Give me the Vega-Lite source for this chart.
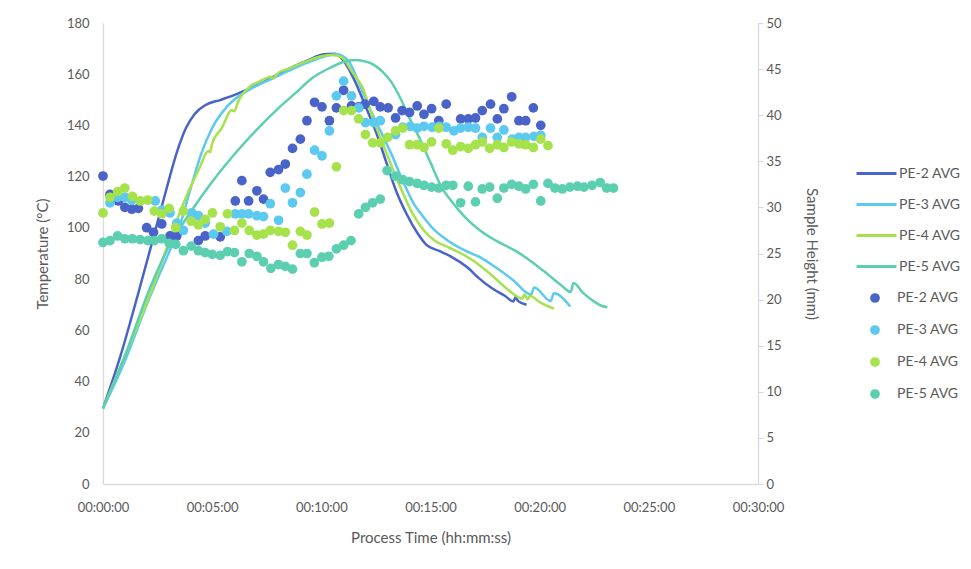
{
  "$schema": "https://vega.github.io/schema/vega-lite/v6.json",
  "width": 655,
  "height": 461,
  "autosize": {"type": "none"},
  "padding": {"left": 103, "top": 23, "right": 213, "bottom": 85},
  "background": "white",
  "config": {
    "view": {"stroke": null},
    "font": "Lato",
    "axis": {"grid": false, "labelFlush": false, "domainColor": "#d9d9d9", "domainWidth": 1.3, "labelColor": "#595959", "titleColor": "#595959", "labelFont": "Lato", "titleFont": "Lato", "labelFontSize": 13, "titleFontSize": 15, "titleFontWeight": "normal", "tickColor": "#d9d9d9"},
    "legend": {"labelFont": "Lato", "labelFontSize": 14, "labelColor": "#595959", "padding": 0}
  },
  "datasets": {
    "lines": [
      {"series": "PE-2 AVG", "t": 0, "temp": 29.5}, {"series": "PE-2 AVG", "t": 0.8, "temp": 50}, {"series": "PE-2 AVG", "t": 1.6, "temp": 74}, {"series": "PE-2 AVG", "t": 2.3, "temp": 96}, {"series": "PE-2 AVG", "t": 2.9, "temp": 115}, {"series": "PE-2 AVG", "t": 3.4, "temp": 130}, {"series": "PE-2 AVG", "t": 3.8, "temp": 139}, {"series": "PE-2 AVG", "t": 4.2, "temp": 144.5}, {"series": "PE-2 AVG", "t": 4.7, "temp": 148}, {"series": "PE-2 AVG", "t": 5.4, "temp": 150}, {"series": "PE-2 AVG", "t": 6.2, "temp": 152.5}, {"series": "PE-2 AVG", "t": 7.0, "temp": 155.5}, {"series": "PE-2 AVG", "t": 7.8, "temp": 159}, {"series": "PE-2 AVG", "t": 8.6, "temp": 162.5}, {"series": "PE-2 AVG", "t": 9.4, "temp": 165.5}, {"series": "PE-2 AVG", "t": 10.1, "temp": 167.8}, {"series": "PE-2 AVG", "t": 10.6, "temp": 168}, {"series": "PE-2 AVG", "t": 11.0, "temp": 165.5}, {"series": "PE-2 AVG", "t": 11.5, "temp": 158}, {"series": "PE-2 AVG", "t": 12.0, "temp": 148}, {"series": "PE-2 AVG", "t": 12.5, "temp": 137.5}, {"series": "PE-2 AVG", "t": 13.0, "temp": 125}, {"series": "PE-2 AVG", "t": 13.4, "temp": 115}, {"series": "PE-2 AVG", "t": 13.9, "temp": 105.5}, {"series": "PE-2 AVG", "t": 14.4, "temp": 98}, {"series": "PE-2 AVG", "t": 14.8, "temp": 93.5}, {"series": "PE-2 AVG", "t": 15.4, "temp": 91}, {"series": "PE-2 AVG", "t": 15.9, "temp": 89}, {"series": "PE-2 AVG", "t": 16.7, "temp": 84.5}, {"series": "PE-2 AVG", "t": 17.2, "temp": 80.5}, {"series": "PE-2 AVG", "t": 17.8, "temp": 76.5}, {"series": "PE-2 AVG", "t": 18.4, "temp": 73.5}, {"series": "PE-2 AVG", "t": 18.8, "temp": 71.3}, {"series": "PE-2 AVG", "t": 18.9, "temp": 73}, {"series": "PE-2 AVG", "t": 19.0, "temp": 71.5}, {"series": "PE-2 AVG", "t": 19.4, "temp": 70},
      {"series": "PE-3 AVG", "t": 0, "temp": 29.5}, {"series": "PE-3 AVG", "t": 1, "temp": 48}, {"series": "PE-3 AVG", "t": 2, "temp": 70}, {"series": "PE-3 AVG", "t": 3, "temp": 90}, {"series": "PE-3 AVG", "t": 3.45, "temp": 99}, {"series": "PE-3 AVG", "t": 4, "temp": 115}, {"series": "PE-3 AVG", "t": 4.5, "temp": 129}, {"series": "PE-3 AVG", "t": 5.0, "temp": 139}, {"series": "PE-3 AVG", "t": 5.75, "temp": 148}, {"series": "PE-3 AVG", "t": 6.8, "temp": 154.5}, {"series": "PE-3 AVG", "t": 7.8, "temp": 158.5}, {"series": "PE-3 AVG", "t": 8.8, "temp": 162.5}, {"series": "PE-3 AVG", "t": 9.6, "temp": 165.3}, {"series": "PE-3 AVG", "t": 10.3, "temp": 167.3}, {"series": "PE-3 AVG", "t": 10.7, "temp": 167.8}, {"series": "PE-3 AVG", "t": 11.0, "temp": 167}, {"series": "PE-3 AVG", "t": 11.3, "temp": 164.5}, {"series": "PE-3 AVG", "t": 11.7, "temp": 157}, {"series": "PE-3 AVG", "t": 12.2, "temp": 147}, {"series": "PE-3 AVG", "t": 12.7, "temp": 138}, {"series": "PE-3 AVG", "t": 13.2, "temp": 129}, {"series": "PE-3 AVG", "t": 13.8, "temp": 117}, {"series": "PE-3 AVG", "t": 14.2, "temp": 110}, {"series": "PE-3 AVG", "t": 14.7, "temp": 104}, {"series": "PE-3 AVG", "t": 15.2, "temp": 99}, {"series": "PE-3 AVG", "t": 15.8, "temp": 95}, {"series": "PE-3 AVG", "t": 16.5, "temp": 91.5}, {"series": "PE-3 AVG", "t": 17.3, "temp": 88.4}, {"series": "PE-3 AVG", "t": 18.0, "temp": 84.5}, {"series": "PE-3 AVG", "t": 18.8, "temp": 79.5}, {"series": "PE-3 AVG", "t": 19.6, "temp": 74}, {"series": "PE-3 AVG", "t": 19.75, "temp": 76.7}, {"series": "PE-3 AVG", "t": 20.5, "temp": 71.5}, {"series": "PE-3 AVG", "t": 20.65, "temp": 74.5}, {"series": "PE-3 AVG", "t": 21.4, "temp": 69.3},
      {"series": "PE-4 AVG", "t": 0, "temp": 29.5}, {"series": "PE-4 AVG", "t": 1, "temp": 50}, {"series": "PE-4 AVG", "t": 2.2, "temp": 75}, {"series": "PE-4 AVG", "t": 3.0, "temp": 94}, {"series": "PE-4 AVG", "t": 3.8, "temp": 112}, {"series": "PE-4 AVG", "t": 4.4, "temp": 123}, {"series": "PE-4 AVG", "t": 4.83, "temp": 130}, {"series": "PE-4 AVG", "t": 4.9, "temp": 129.5}, {"series": "PE-4 AVG", "t": 5.0, "temp": 133}, {"series": "PE-4 AVG", "t": 5.44, "temp": 139}, {"series": "PE-4 AVG", "t": 5.9, "temp": 146}, {"series": "PE-4 AVG", "t": 6.0, "temp": 145.5}, {"series": "PE-4 AVG", "t": 6.2, "temp": 149.5}, {"series": "PE-4 AVG", "t": 6.7, "temp": 155}, {"series": "PE-4 AVG", "t": 7.2, "temp": 157.3}, {"series": "PE-4 AVG", "t": 7.7, "temp": 159}, {"series": "PE-4 AVG", "t": 7.8, "temp": 158.3}, {"series": "PE-4 AVG", "t": 7.95, "temp": 160}, {"series": "PE-4 AVG", "t": 8.6, "temp": 162.5}, {"series": "PE-4 AVG", "t": 9.4, "temp": 165.3}, {"series": "PE-4 AVG", "t": 10.0, "temp": 167}, {"series": "PE-4 AVG", "t": 10.5, "temp": 167.5}, {"series": "PE-4 AVG", "t": 10.95, "temp": 166.5}, {"series": "PE-4 AVG", "t": 11.4, "temp": 161}, {"series": "PE-4 AVG", "t": 11.9, "temp": 154.5}, {"series": "PE-4 AVG", "t": 12.4, "temp": 142}, {"series": "PE-4 AVG", "t": 12.9, "temp": 131}, {"series": "PE-4 AVG", "t": 13.5, "temp": 118.3}, {"series": "PE-4 AVG", "t": 14.2, "temp": 105.3}, {"series": "PE-4 AVG", "t": 14.7, "temp": 99}, {"series": "PE-4 AVG", "t": 15.2, "temp": 95}, {"series": "PE-4 AVG", "t": 15.8, "temp": 92.5}, {"series": "PE-4 AVG", "t": 16.4, "temp": 90}, {"series": "PE-4 AVG", "t": 17.0, "temp": 87}, {"series": "PE-4 AVG", "t": 17.6, "temp": 83}, {"series": "PE-4 AVG", "t": 18.2, "temp": 78.5}, {"series": "PE-4 AVG", "t": 18.8, "temp": 74.2}, {"series": "PE-4 AVG", "t": 19.2, "temp": 72.3}, {"series": "PE-4 AVG", "t": 19.3, "temp": 74}, {"series": "PE-4 AVG", "t": 19.45, "temp": 72}, {"series": "PE-4 AVG", "t": 19.55, "temp": 73.5}, {"series": "PE-4 AVG", "t": 20.0, "temp": 71}, {"series": "PE-4 AVG", "t": 20.65, "temp": 68.5},
      {"series": "PE-5 AVG", "t": 0, "temp": 29.5}, {"series": "PE-5 AVG", "t": 1, "temp": 50}, {"series": "PE-5 AVG", "t": 2.08, "temp": 75}, {"series": "PE-5 AVG", "t": 3.07, "temp": 93.6}, {"series": "PE-5 AVG", "t": 4.0, "temp": 106}, {"series": "PE-5 AVG", "t": 5.0, "temp": 118}, {"series": "PE-5 AVG", "t": 6.2, "temp": 130.5}, {"series": "PE-5 AVG", "t": 7.0, "temp": 138}, {"series": "PE-5 AVG", "t": 8.0, "temp": 146.5}, {"series": "PE-5 AVG", "t": 8.8, "temp": 152.5}, {"series": "PE-5 AVG", "t": 9.6, "temp": 158.6}, {"series": "PE-5 AVG", "t": 10.4, "temp": 162.5}, {"series": "PE-5 AVG", "t": 11.0, "temp": 164.8}, {"series": "PE-5 AVG", "t": 11.56, "temp": 165.6}, {"series": "PE-5 AVG", "t": 12.2, "temp": 164.5}, {"series": "PE-5 AVG", "t": 12.8, "temp": 161}, {"series": "PE-5 AVG", "t": 13.2, "temp": 157}, {"series": "PE-5 AVG", "t": 13.6, "temp": 151}, {"series": "PE-5 AVG", "t": 14.0, "temp": 143.5}, {"series": "PE-5 AVG", "t": 14.5, "temp": 135}, {"series": "PE-5 AVG", "t": 15.0, "temp": 125.5}, {"series": "PE-5 AVG", "t": 15.5, "temp": 116}, {"series": "PE-5 AVG", "t": 16.0, "temp": 110}, {"series": "PE-5 AVG", "t": 16.6, "temp": 104}, {"series": "PE-5 AVG", "t": 17.3, "temp": 98.8}, {"series": "PE-5 AVG", "t": 18.0, "temp": 95}, {"series": "PE-5 AVG", "t": 18.9, "temp": 91}, {"series": "PE-5 AVG", "t": 19.6, "temp": 87}, {"series": "PE-5 AVG", "t": 20.35, "temp": 82}, {"series": "PE-5 AVG", "t": 21.0, "temp": 77.5}, {"series": "PE-5 AVG", "t": 21.42, "temp": 75}, {"series": "PE-5 AVG", "t": 21.55, "temp": 78.5}, {"series": "PE-5 AVG", "t": 22.0, "temp": 74.5}, {"series": "PE-5 AVG", "t": 22.5, "temp": 71.2}, {"series": "PE-5 AVG", "t": 22.8, "temp": 69.7}, {"series": "PE-5 AVG", "t": 23.1, "temp": 69}
    ],
    "dots": [
      {"sample": "PE-2 AVG", "t": 0, "h": 33.4}, {"sample": "PE-2 AVG", "t": 0.32, "h": 31.4}, {"sample": "PE-2 AVG", "t": 0.7, "h": 30.7}, {"sample": "PE-2 AVG", "t": 1.0, "h": 30.0}, {"sample": "PE-2 AVG", "t": 1.32, "h": 29.8}, {"sample": "PE-2 AVG", "t": 1.62, "h": 29.9}, {"sample": "PE-2 AVG", "t": 2.0, "h": 27.8}, {"sample": "PE-2 AVG", "t": 2.31, "h": 27.3}, {"sample": "PE-2 AVG", "t": 2.69, "h": 28.2}, {"sample": "PE-2 AVG", "t": 3.07, "h": 26.9}, {"sample": "PE-2 AVG", "t": 3.38, "h": 26.9}, {"sample": "PE-2 AVG", "t": 4.37, "h": 26.4}, {"sample": "PE-2 AVG", "t": 4.68, "h": 26.9}, {"sample": "PE-2 AVG", "t": 5.37, "h": 26.8}, {"sample": "PE-2 AVG", "t": 6.06, "h": 30.7}, {"sample": "PE-2 AVG", "t": 6.36, "h": 32.9}, {"sample": "PE-2 AVG", "t": 6.67, "h": 30.7}, {"sample": "PE-2 AVG", "t": 7.05, "h": 31.8}, {"sample": "PE-2 AVG", "t": 7.35, "h": 30.9}, {"sample": "PE-2 AVG", "t": 7.66, "h": 33.8}, {"sample": "PE-2 AVG", "t": 8.04, "h": 34.1}, {"sample": "PE-2 AVG", "t": 8.35, "h": 34.7}, {"sample": "PE-2 AVG", "t": 8.68, "h": 36.4}, {"sample": "PE-2 AVG", "t": 9.04, "h": 37.4}, {"sample": "PE-2 AVG", "t": 9.34, "h": 39.4}, {"sample": "PE-2 AVG", "t": 9.69, "h": 41.4}, {"sample": "PE-2 AVG", "t": 10.03, "h": 40.9}, {"sample": "PE-2 AVG", "t": 10.37, "h": 39.4}, {"sample": "PE-2 AVG", "t": 10.69, "h": 40.8}, {"sample": "PE-2 AVG", "t": 11.02, "h": 42.7}, {"sample": "PE-2 AVG", "t": 11.38, "h": 41.0}, {"sample": "PE-2 AVG", "t": 11.71, "h": 40.9}, {"sample": "PE-2 AVG", "t": 12.0, "h": 41.2}, {"sample": "PE-2 AVG", "t": 12.4, "h": 41.5}, {"sample": "PE-2 AVG", "t": 12.7, "h": 40.9}, {"sample": "PE-2 AVG", "t": 13.06, "h": 40.8}, {"sample": "PE-2 AVG", "t": 13.4, "h": 39.7}, {"sample": "PE-2 AVG", "t": 13.7, "h": 40.5}, {"sample": "PE-2 AVG", "t": 14.04, "h": 40.3}, {"sample": "PE-2 AVG", "t": 14.39, "h": 41.0}, {"sample": "PE-2 AVG", "t": 14.7, "h": 40.1}, {"sample": "PE-2 AVG", "t": 15.05, "h": 40.7}, {"sample": "PE-2 AVG", "t": 15.38, "h": 39.4}, {"sample": "PE-2 AVG", "t": 15.72, "h": 41.2}, {"sample": "PE-2 AVG", "t": 16.38, "h": 39.6}, {"sample": "PE-2 AVG", "t": 16.73, "h": 39.6}, {"sample": "PE-2 AVG", "t": 17.06, "h": 39.7}, {"sample": "PE-2 AVG", "t": 17.37, "h": 40.5}, {"sample": "PE-2 AVG", "t": 17.75, "h": 41.2}, {"sample": "PE-2 AVG", "t": 18.06, "h": 39.6}, {"sample": "PE-2 AVG", "t": 18.36, "h": 40.7}, {"sample": "PE-2 AVG", "t": 18.72, "h": 42.0}, {"sample": "PE-2 AVG", "t": 19.05, "h": 39.4}, {"sample": "PE-2 AVG", "t": 19.36, "h": 39.4}, {"sample": "PE-2 AVG", "t": 19.71, "h": 40.8}, {"sample": "PE-2 AVG", "t": 20.05, "h": 38.9},
      {"sample": "PE-3 AVG", "t": 0.32, "h": 30.5}, {"sample": "PE-3 AVG", "t": 0.67, "h": 31.1}, {"sample": "PE-3 AVG", "t": 1.0, "h": 31.1}, {"sample": "PE-3 AVG", "t": 1.32, "h": 30.8}, {"sample": "PE-3 AVG", "t": 2.39, "h": 30.7}, {"sample": "PE-3 AVG", "t": 2.69, "h": 29.7}, {"sample": "PE-3 AVG", "t": 3.07, "h": 29.4}, {"sample": "PE-3 AVG", "t": 3.38, "h": 28.3}, {"sample": "PE-3 AVG", "t": 3.68, "h": 27.5}, {"sample": "PE-3 AVG", "t": 4.07, "h": 29.4}, {"sample": "PE-3 AVG", "t": 4.37, "h": 29.1}, {"sample": "PE-3 AVG", "t": 4.68, "h": 28.3}, {"sample": "PE-3 AVG", "t": 5.06, "h": 27.1}, {"sample": "PE-3 AVG", "t": 5.67, "h": 27.4}, {"sample": "PE-3 AVG", "t": 6.06, "h": 29.3}, {"sample": "PE-3 AVG", "t": 6.36, "h": 29.3}, {"sample": "PE-3 AVG", "t": 6.67, "h": 29.3}, {"sample": "PE-3 AVG", "t": 7.05, "h": 29.1}, {"sample": "PE-3 AVG", "t": 7.35, "h": 29.0}, {"sample": "PE-3 AVG", "t": 7.66, "h": 30.4}, {"sample": "PE-3 AVG", "t": 8.04, "h": 28.6}, {"sample": "PE-3 AVG", "t": 8.35, "h": 32.1}, {"sample": "PE-3 AVG", "t": 8.68, "h": 30.5}, {"sample": "PE-3 AVG", "t": 9.04, "h": 31.6}, {"sample": "PE-3 AVG", "t": 9.34, "h": 33.6}, {"sample": "PE-3 AVG", "t": 9.69, "h": 36.2}, {"sample": "PE-3 AVG", "t": 10.03, "h": 35.6}, {"sample": "PE-3 AVG", "t": 10.37, "h": 38.3}, {"sample": "PE-3 AVG", "t": 10.69, "h": 42.1}, {"sample": "PE-3 AVG", "t": 11.02, "h": 43.7}, {"sample": "PE-3 AVG", "t": 11.38, "h": 42.1}, {"sample": "PE-3 AVG", "t": 11.71, "h": 40.8}, {"sample": "PE-3 AVG", "t": 12.02, "h": 39.2}, {"sample": "PE-3 AVG", "t": 12.4, "h": 39.2}, {"sample": "PE-3 AVG", "t": 12.7, "h": 39.4}, {"sample": "PE-3 AVG", "t": 13.4, "h": 37.9}, {"sample": "PE-3 AVG", "t": 13.73, "h": 38.7}, {"sample": "PE-3 AVG", "t": 14.08, "h": 38.8}, {"sample": "PE-3 AVG", "t": 14.39, "h": 38.6}, {"sample": "PE-3 AVG", "t": 14.7, "h": 38.8}, {"sample": "PE-3 AVG", "t": 15.08, "h": 38.7}, {"sample": "PE-3 AVG", "t": 15.4, "h": 38.8}, {"sample": "PE-3 AVG", "t": 15.72, "h": 38.7}, {"sample": "PE-3 AVG", "t": 16.07, "h": 38.3}, {"sample": "PE-3 AVG", "t": 16.38, "h": 38.6}, {"sample": "PE-3 AVG", "t": 16.73, "h": 38.7}, {"sample": "PE-3 AVG", "t": 17.06, "h": 38.6}, {"sample": "PE-3 AVG", "t": 17.37, "h": 37.6}, {"sample": "PE-3 AVG", "t": 17.75, "h": 38.6}, {"sample": "PE-3 AVG", "t": 18.06, "h": 37.6}, {"sample": "PE-3 AVG", "t": 18.36, "h": 38.4}, {"sample": "PE-3 AVG", "t": 18.75, "h": 37.4}, {"sample": "PE-3 AVG", "t": 19.05, "h": 37.6}, {"sample": "PE-3 AVG", "t": 19.36, "h": 37.6}, {"sample": "PE-3 AVG", "t": 19.74, "h": 37.7}, {"sample": "PE-3 AVG", "t": 20.05, "h": 37.8},
      {"sample": "PE-4 AVG", "t": 0, "h": 29.4}, {"sample": "PE-4 AVG", "t": 0.32, "h": 31.1}, {"sample": "PE-4 AVG", "t": 0.67, "h": 31.7}, {"sample": "PE-4 AVG", "t": 1.0, "h": 32.1}, {"sample": "PE-4 AVG", "t": 1.35, "h": 31.2}, {"sample": "PE-4 AVG", "t": 1.7, "h": 30.7}, {"sample": "PE-4 AVG", "t": 2.05, "h": 30.8}, {"sample": "PE-4 AVG", "t": 2.35, "h": 29.6}, {"sample": "PE-4 AVG", "t": 2.69, "h": 29.3}, {"sample": "PE-4 AVG", "t": 3.03, "h": 29.9}, {"sample": "PE-4 AVG", "t": 3.33, "h": 27.8}, {"sample": "PE-4 AVG", "t": 3.68, "h": 29.6}, {"sample": "PE-4 AVG", "t": 4.04, "h": 28.5}, {"sample": "PE-4 AVG", "t": 4.37, "h": 28.1}, {"sample": "PE-4 AVG", "t": 4.68, "h": 28.7}, {"sample": "PE-4 AVG", "t": 5.01, "h": 29.4}, {"sample": "PE-4 AVG", "t": 5.37, "h": 27.9}, {"sample": "PE-4 AVG", "t": 5.7, "h": 29.3}, {"sample": "PE-4 AVG", "t": 6.02, "h": 27.5}, {"sample": "PE-4 AVG", "t": 6.36, "h": 28.3}, {"sample": "PE-4 AVG", "t": 6.7, "h": 27.5}, {"sample": "PE-4 AVG", "t": 7.05, "h": 27.0}, {"sample": "PE-4 AVG", "t": 7.35, "h": 27.1}, {"sample": "PE-4 AVG", "t": 7.66, "h": 27.5}, {"sample": "PE-4 AVG", "t": 8.04, "h": 27.4}, {"sample": "PE-4 AVG", "t": 8.35, "h": 27.3}, {"sample": "PE-4 AVG", "t": 8.68, "h": 25.9}, {"sample": "PE-4 AVG", "t": 9.04, "h": 27.4}, {"sample": "PE-4 AVG", "t": 9.34, "h": 27.0}, {"sample": "PE-4 AVG", "t": 9.69, "h": 29.5}, {"sample": "PE-4 AVG", "t": 10.03, "h": 28.2}, {"sample": "PE-4 AVG", "t": 10.37, "h": 28.3}, {"sample": "PE-4 AVG", "t": 10.69, "h": 34.4}, {"sample": "PE-4 AVG", "t": 11.02, "h": 40.5}, {"sample": "PE-4 AVG", "t": 11.38, "h": 40.5}, {"sample": "PE-4 AVG", "t": 11.71, "h": 39.6}, {"sample": "PE-4 AVG", "t": 12.02, "h": 37.9}, {"sample": "PE-4 AVG", "t": 12.35, "h": 37.0}, {"sample": "PE-4 AVG", "t": 12.7, "h": 37.0}, {"sample": "PE-4 AVG", "t": 13.04, "h": 37.6}, {"sample": "PE-4 AVG", "t": 13.4, "h": 38.3}, {"sample": "PE-4 AVG", "t": 13.73, "h": 38.6}, {"sample": "PE-4 AVG", "t": 14.04, "h": 36.8}, {"sample": "PE-4 AVG", "t": 14.39, "h": 36.8}, {"sample": "PE-4 AVG", "t": 14.7, "h": 36.5}, {"sample": "PE-4 AVG", "t": 15.05, "h": 37.1}, {"sample": "PE-4 AVG", "t": 15.38, "h": 38.6}, {"sample": "PE-4 AVG", "t": 15.72, "h": 36.9}, {"sample": "PE-4 AVG", "t": 16.02, "h": 36.2}, {"sample": "PE-4 AVG", "t": 16.38, "h": 36.6}, {"sample": "PE-4 AVG", "t": 16.73, "h": 36.4}, {"sample": "PE-4 AVG", "t": 17.06, "h": 36.8}, {"sample": "PE-4 AVG", "t": 17.37, "h": 37.1}, {"sample": "PE-4 AVG", "t": 17.71, "h": 36.4}, {"sample": "PE-4 AVG", "t": 18.06, "h": 36.8}, {"sample": "PE-4 AVG", "t": 18.36, "h": 36.5}, {"sample": "PE-4 AVG", "t": 18.72, "h": 37.1}, {"sample": "PE-4 AVG", "t": 19.05, "h": 36.9}, {"sample": "PE-4 AVG", "t": 19.36, "h": 36.8}, {"sample": "PE-4 AVG", "t": 19.71, "h": 36.5}, {"sample": "PE-4 AVG", "t": 20.05, "h": 37.4}, {"sample": "PE-4 AVG", "t": 20.38, "h": 36.7},
      {"sample": "PE-5 AVG", "t": 0, "h": 26.2}, {"sample": "PE-5 AVG", "t": 0.32, "h": 26.4}, {"sample": "PE-5 AVG", "t": 0.67, "h": 26.9}, {"sample": "PE-5 AVG", "t": 1.0, "h": 26.6}, {"sample": "PE-5 AVG", "t": 1.35, "h": 26.6}, {"sample": "PE-5 AVG", "t": 1.7, "h": 26.5}, {"sample": "PE-5 AVG", "t": 2.05, "h": 26.4}, {"sample": "PE-5 AVG", "t": 2.35, "h": 26.4}, {"sample": "PE-5 AVG", "t": 2.69, "h": 26.6}, {"sample": "PE-5 AVG", "t": 3.03, "h": 26.1}, {"sample": "PE-5 AVG", "t": 3.33, "h": 26.0}, {"sample": "PE-5 AVG", "t": 3.68, "h": 25.3}, {"sample": "PE-5 AVG", "t": 4.04, "h": 25.8}, {"sample": "PE-5 AVG", "t": 4.37, "h": 25.3}, {"sample": "PE-5 AVG", "t": 4.68, "h": 25.1}, {"sample": "PE-5 AVG", "t": 5.01, "h": 24.9}, {"sample": "PE-5 AVG", "t": 5.37, "h": 24.8}, {"sample": "PE-5 AVG", "t": 5.7, "h": 25.2}, {"sample": "PE-5 AVG", "t": 6.02, "h": 25.1}, {"sample": "PE-5 AVG", "t": 6.36, "h": 24.1}, {"sample": "PE-5 AVG", "t": 6.7, "h": 25.0}, {"sample": "PE-5 AVG", "t": 7.05, "h": 24.7}, {"sample": "PE-5 AVG", "t": 7.35, "h": 24.1}, {"sample": "PE-5 AVG", "t": 7.69, "h": 23.4}, {"sample": "PE-5 AVG", "t": 8.04, "h": 23.8}, {"sample": "PE-5 AVG", "t": 8.35, "h": 23.6}, {"sample": "PE-5 AVG", "t": 8.68, "h": 23.3}, {"sample": "PE-5 AVG", "t": 9.04, "h": 25.0}, {"sample": "PE-5 AVG", "t": 9.34, "h": 25.0}, {"sample": "PE-5 AVG", "t": 9.68, "h": 24.0}, {"sample": "PE-5 AVG", "t": 10.03, "h": 24.6}, {"sample": "PE-5 AVG", "t": 10.34, "h": 24.7}, {"sample": "PE-5 AVG", "t": 10.69, "h": 25.5}, {"sample": "PE-5 AVG", "t": 11.02, "h": 25.9}, {"sample": "PE-5 AVG", "t": 11.36, "h": 26.4}, {"sample": "PE-5 AVG", "t": 11.71, "h": 29.3}, {"sample": "PE-5 AVG", "t": 12.02, "h": 30.0}, {"sample": "PE-5 AVG", "t": 12.35, "h": 30.5}, {"sample": "PE-5 AVG", "t": 12.7, "h": 30.9}, {"sample": "PE-5 AVG", "t": 13.01, "h": 34.0}, {"sample": "PE-5 AVG", "t": 13.4, "h": 33.4}, {"sample": "PE-5 AVG", "t": 13.73, "h": 33.0}, {"sample": "PE-5 AVG", "t": 14.04, "h": 32.8}, {"sample": "PE-5 AVG", "t": 14.39, "h": 32.6}, {"sample": "PE-5 AVG", "t": 14.7, "h": 32.4}, {"sample": "PE-5 AVG", "t": 15.05, "h": 32.2}, {"sample": "PE-5 AVG", "t": 15.38, "h": 32.1}, {"sample": "PE-5 AVG", "t": 15.72, "h": 32.4}, {"sample": "PE-5 AVG", "t": 16.02, "h": 32.4}, {"sample": "PE-5 AVG", "t": 16.38, "h": 30.5}, {"sample": "PE-5 AVG", "t": 16.73, "h": 32.3}, {"sample": "PE-5 AVG", "t": 17.06, "h": 30.6}, {"sample": "PE-5 AVG", "t": 17.37, "h": 32.0}, {"sample": "PE-5 AVG", "t": 17.71, "h": 32.2}, {"sample": "PE-5 AVG", "t": 18.06, "h": 31.0}, {"sample": "PE-5 AVG", "t": 18.36, "h": 32.1}, {"sample": "PE-5 AVG", "t": 18.72, "h": 32.5}, {"sample": "PE-5 AVG", "t": 19.05, "h": 32.3}, {"sample": "PE-5 AVG", "t": 19.36, "h": 32.0}, {"sample": "PE-5 AVG", "t": 19.71, "h": 32.5}, {"sample": "PE-5 AVG", "t": 20.05, "h": 30.7}, {"sample": "PE-5 AVG", "t": 20.38, "h": 32.6}, {"sample": "PE-5 AVG", "t": 20.7, "h": 32.1}, {"sample": "PE-5 AVG", "t": 21.04, "h": 32.0}, {"sample": "PE-5 AVG", "t": 21.38, "h": 32.2}, {"sample": "PE-5 AVG", "t": 21.73, "h": 32.3}, {"sample": "PE-5 AVG", "t": 22.03, "h": 32.2}, {"sample": "PE-5 AVG", "t": 22.4, "h": 32.4}, {"sample": "PE-5 AVG", "t": 22.77, "h": 32.7}, {"sample": "PE-5 AVG", "t": 23.07, "h": 32.1}, {"sample": "PE-5 AVG", "t": 23.38, "h": 32.1}
    ]
  },
  "layer": [
    {
      "data": {"name": "lines"},
      "mark": {"type": "line", "strokeWidth": 2.5, "interpolate": "monotone"},
      "encoding": {
        "x": {"field": "t", "type": "quantitative", "scale": {"domain": [0, 30], "nice": false},
          "axis": {"values": [0, 5, 10, 15, 20, 25, 30], "labelExpr": "'00:' + (datum.value < 10 ? '0' : '') + datum.value + ':00'", "title": "Process Time (hh:mm:ss)", "ticks": false, "labelPadding": 17, "titlePadding": 16}},
        "y": {"field": "temp", "type": "quantitative", "scale": {"domain": [0, 180], "nice": false},
          "axis": {"values": [0, 20, 40, 60, 80, 100, 120, 140, 160, 180], "title": "Temperature (°C)", "ticks": false, "labelPadding": 14, "titlePadding": 16}},
        "stroke": {"field": "series", "type": "nominal",
          "scale": {"domain": ["PE-2 AVG", "PE-3 AVG", "PE-4 AVG", "PE-5 AVG"], "range": ["#4A63C9", "#5BC9F0", "#A6E24C", "#5DCFB1"]},
          "legend": {"title": null, "orient": "none", "legendX": 762, "legendY": 139, "symbolType": "M-2,0H2", "symbolSize": 400, "symbolStrokeWidth": 3, "labelOffset": 11, "rowPadding": 12}}
      }
    },
    {
      "data": {"name": "dots"},
      "mark": {"type": "circle", "size": 95, "opacity": 1},
      "encoding": {
        "x": {"field": "t", "type": "quantitative"},
        "y": {"field": "h", "type": "quantitative", "scale": {"domain": [0, 50], "nice": false},
          "axis": {"orient": "right", "values": [0, 5, 10, 15, 20, 25, 30, 35, 40, 45, 50], "title": "Sample Height (mm)", "ticks": true, "tickSize": 5, "labelPadding": 3, "titlePadding": 22}},
        "color": {"field": "sample", "type": "nominal",
          "scale": {"domain": ["PE-2 AVG", "PE-3 AVG", "PE-4 AVG", "PE-5 AVG"], "range": ["#4A63C9", "#5BC9F0", "#A6E24C", "#5DCFB1"]},
          "legend": {"title": null, "orient": "none", "legendX": 765, "legendY": 268, "symbolType": "circle", "symbolSize": 95, "symbolOpacity": 1, "labelOffset": 15, "rowPadding": 18}}
      }
    }
  ],
  "resolve": {"scale": {"y": "independent", "color": "independent", "stroke": "independent"}}
}
